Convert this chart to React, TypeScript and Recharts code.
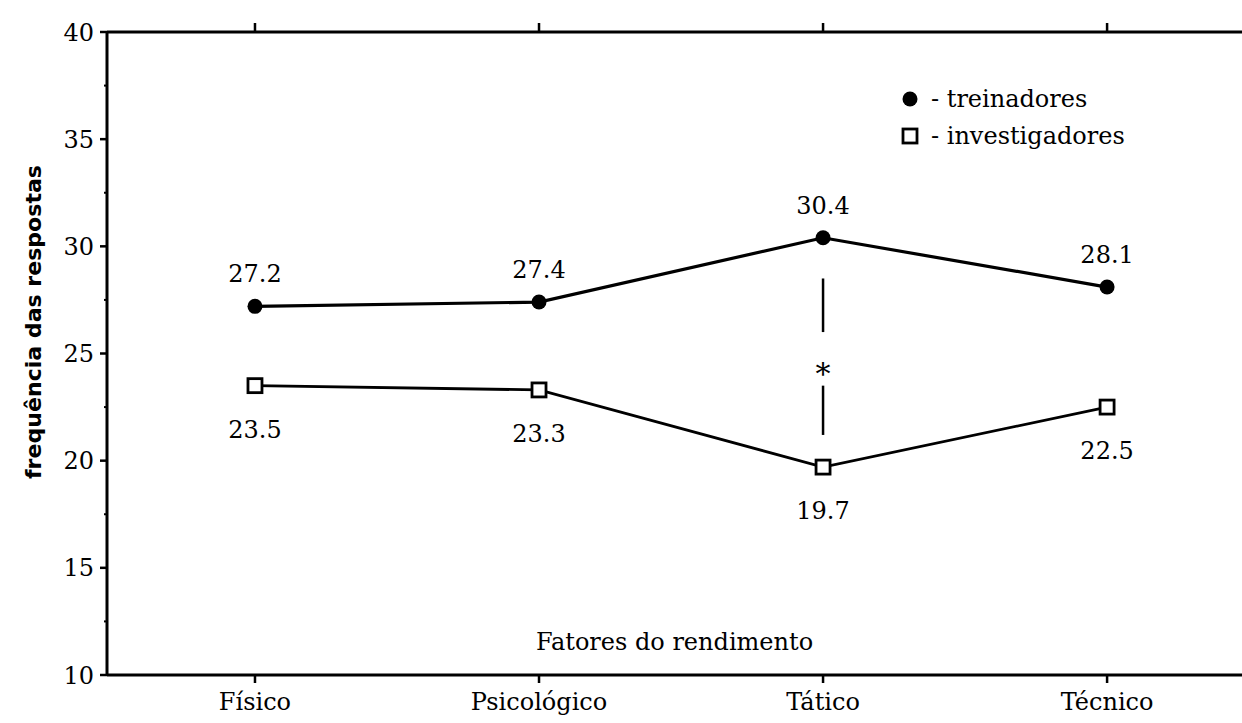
import React from "react";
import {
  LineChart,
  Line,
  XAxis,
  YAxis,
  ReferenceLine,
  ReferenceDot,
  LabelList,
  Legend,
} from "recharts";

const categories = ["Físico", "Psicológico", "Tático", "Técnico"];
const treinadores = [27.2, 27.4, 30.4, 28.1];
const investigadores = [23.5, 23.3, 19.7, 22.5];
const yTicks = [10, 12.5, 15, 17.5, 20, 22.5, 25, 27.5, 30, 32.5, 35, 37.5, 40];

// significance marker between the two series at "Tático"
const sigIndex = 2;
const sigUpper = [28.5, 26.0];
const sigLower = [23.5, 21.2];
const sigStar = 24.2;

const FONT = "'DejaVu Serif', 'Liberation Serif', serif";

const data = categories.map((c, i) => ({
  idx: i,
  name: c,
  treinadores: treinadores[i],
  investigadores: investigadores[i],
}));

function YTick(props: any) {
  const { x, y, payload } = props;
  const major = payload.value % 5 === 0;
  return (
    <g>
      <line
        x1={major ? x - 7 : x - 3}
        x2={x}
        y1={y}
        y2={y}
        stroke="#000"
        strokeWidth={major ? 2.5 : 2}
      />
      {major && (
        <text
          x={x - 13}
          y={y}
          dy="0.36em"
          textAnchor="end"
          fontFamily={FONT}
          fontSize={24}
          fill="#000"
        >
          {payload.value}
        </text>
      )}
    </g>
  );
}

function CircleDot(props: any) {
  const { cx, cy } = props;
  return <circle cx={cx} cy={cy} r={7.5} fill="#000" />;
}

function SquareDot(props: any) {
  const { cx, cy } = props;
  return (
    <rect
      x={cx - 7}
      y={cy - 7}
      width={14}
      height={14}
      fill="#fff"
      stroke="#000"
      strokeWidth={2.8}
    />
  );
}

function LegendBox() {
  return (
    <svg width={270} height={80}>
      <circle cx={15} cy={19} r={7.5} fill="#000" />
      <text x={36} y={27} fontFamily={FONT} fontSize={24} fill="#000">
        - treinadores
      </text>
      <rect x={8} y={49} width={14} height={14} fill="#fff" stroke="#000" strokeWidth={2.8} />
      <text x={36} y={64} fontFamily={FONT} fontSize={24} fill="#000">
        - investigadores
      </text>
    </svg>
  );
}

function YLabel() {
  return (
    <text
      x={33}
      y={322}
      transform="rotate(-90, 33, 322)"
      textAnchor="middle"
      dominantBaseline="central"
      fontFamily="'DejaVu Sans', sans-serif"
      fontWeight="bold"
      fontSize={22}
      textLength={314}
      lengthAdjust="spacingAndGlyphs"
      fill="#000"
    >
      frequência das respostas
    </text>
  );
}

function Star(props: any) {
  const { cx, cy } = props;
  return (
    <text
      x={cx}
      y={cy}
      dy="0.45em"
      textAnchor="middle"
      fontFamily={FONT}
      fontSize={30}
      fill="#000"
    >
      *
    </text>
  );
}

const labelStyle = { fontFamily: FONT, fontSize: 24, fill: "#000" };

export default function App() {
  return (
    <div style={{ position: "absolute", left: 0, top: 0, width: 1242, height: 723, background: "#fff" }}>
      <LineChart
        width={1242}
        height={723}
        data={data}
        margin={{ top: 2, right: 0, bottom: 0, left: 0 }}
      >
        <XAxis
          xAxisId="bottom"
          dataKey="idx"
          type="number"
          domain={[-0.521, 3.475]}
          ticks={[0, 1, 2, 3]}
          allowDataOverflow
          tickFormatter={(v) => categories[v]}
          height={48}
          tickSize={8}
          tickMargin={10}
          tick={{ fontFamily: FONT, fontSize: 24, fill: "#000" }}
          axisLine={{ stroke: "#000", strokeWidth: 3 }}
          tickLine={{ stroke: "#000", strokeWidth: 2.5 }}
          label={{
            value: "Fatores do rendimento",
            position: "top",
            offset: 25,
            style: labelStyle,
          }}
        />
        <XAxis
          xAxisId="top"
          orientation="top"
          dataKey="idx"
          type="number"
          domain={[-0.521, 3.475]}
          ticks={[0, 1, 2, 3]}
          allowDataOverflow
          tickFormatter={() => ""}
          height={30}
          tickSize={9}
          axisLine={{ stroke: "#000", strokeWidth: 3 }}
          tickLine={{ stroke: "#000", strokeWidth: 2.5 }}
        />
        <YAxis
          domain={[10, 40]}
          ticks={yTicks}
          interval={0}
          width={107}
          tickSize={0}
          tickMargin={0}
          tickLine={false}
          tick={<YTick />}
          axisLine={{ stroke: "#000", strokeWidth: 3 }}
          label={<YLabel />}
        />
        <Legend
          layout="vertical"
          align="center"
          verticalAlign="middle"
          content={<LegendBox />}
          wrapperStyle={{ position: "absolute", left: 895, top: 80, width: 270, height: 80 }}
        />
        <ReferenceLine
          xAxisId="bottom"
          segment={[
            { x: sigIndex, y: sigUpper[0] },
            { x: sigIndex, y: sigUpper[1] },
          ]}
          stroke="#000"
          strokeWidth={2.5}
        />
        <ReferenceLine
          xAxisId="bottom"
          segment={[
            { x: sigIndex, y: sigLower[0] },
            { x: sigIndex, y: sigLower[1] },
          ]}
          stroke="#000"
          strokeWidth={2.5}
        />
        <ReferenceDot xAxisId="bottom" x={sigIndex} y={sigStar} r={0} shape={<Star />} />
        <Line
          xAxisId="bottom"
          dataKey="treinadores"
          stroke="#000"
          strokeWidth={3.2}
          dot={<CircleDot />}
          activeDot={false}
          isAnimationActive={false}
        >
          <LabelList dataKey="treinadores" position="top" offset={24} style={labelStyle} />
        </Line>
        <Line
          xAxisId="bottom"
          dataKey="investigadores"
          stroke="#000"
          strokeWidth={2.8}
          dot={<SquareDot />}
          activeDot={false}
          isAnimationActive={false}
        >
          <LabelList dataKey="investigadores" position="bottom" offset={35} style={labelStyle} />
        </Line>
      </LineChart>
    </div>
  );
}
